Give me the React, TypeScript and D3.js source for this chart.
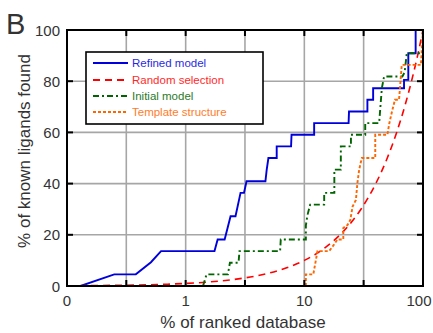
import React from "react";
import * as d3 from "d3";

// x values are % of ranked database (log axis, left edge labelled "0")
const refinedX = [0.13, 0.25, 0.38, 0.51, 0.62, 1.75, 1.86, 2.13, 2.39, 2.63, 2.9, 3.1, 3.26, 4.7, 4.82, 4.98, 5.85, 5.85, 7.73, 7.8, 12.1, 12.1, 23.6, 23.8, 34, 34, 38, 38, 69.2, 69.2, 75.2, 75.2, 86.7, 86.7, 100];
const refinedY = [0, 4.55, 4.55, 9.3, 13.64, 13.64, 18.18, 18.18, 27.27, 27.27, 36.36, 36.36, 40.9, 40.9, 45.45, 50, 50, 54.55, 54.55, 59.09, 59.09, 63.64, 63.64, 68.18, 68.18, 72.73, 72.73, 77.27, 77.27, 80.5, 80.5, 90.91, 90.91, 100, 100];

const randomX = [0.1, 0.15, 0.2, 0.3, 0.5, 0.7, 1, 1.5, 2, 3, 5, 7, 10, 15, 20, 25, 30, 40, 50, 60, 70, 80, 90, 100];
const randomY = [0.1, 0.15, 0.2, 0.3, 0.5, 0.7, 1, 1.5, 2, 3, 5, 7, 10, 15, 20, 25, 30, 40, 50, 60, 70, 80, 90, 100];

const initialX = [1.4, 1.5, 2.27, 2.36, 2.79, 2.84, 6.25, 6.33, 10.3, 10.3, 10.6, 11.2, 14.7, 14.7, 17.9, 17.9, 20.3, 20.3, 24.7, 24.7, 32.6, 32.6, 42.7, 45, 47, 67, 70, 73, 100, 100];
const initialY = [0, 4.55, 4.55, 9.09, 9.09, 13.64, 13.64, 18.18, 18.18, 23.6, 27.5, 31.8, 31.8, 36.36, 36.36, 45.45, 45.45, 54.55, 54.55, 59.09, 59.09, 63.64, 63.64, 77.27, 81.82, 81.82, 83.5, 90.91, 90.91, 100];

const templateX = [10.3, 10.3, 11.9, 12.5, 12.9, 16.2, 18, 19, 21.3, 21.3, 23.1, 24.4, 25.5, 27.2, 28, 29, 30.5, 39.6, 39.6, 50.1, 52, 55, 58, 62.8, 64, 66.2, 96, 100];
const templateY = [0, 4.55, 4.55, 10, 13.64, 13.64, 16.5, 18.18, 18.18, 22.7, 23.8, 25.8, 31, 33.6, 40.2, 45.5, 50, 50, 59.09, 59.09, 63.5, 68.5, 72.73, 72.73, 77.5, 86.36, 86.36, 100];

const seriesNames = ["Refined model", "Random selection", "Initial model", "Template structure"];
const seriesColors = ["#0000dd", "#ff0000", "#006400", "#ff6600"];
const seriesDash = ["none", "7,5", "6,3,2,3", "3,2"];

const xGridTicks = [0.1, 0.316, 1, 3.16, 10, 31.6, 100];
const xLabelValues = [0.1, 1, 10, 100];
const xLabelTexts = ["0", "1", "10", "100"];
const yTicks = [0, 20, 40, 60, 80, 100];

const W = 433;
const H = 333;
const left = 67;
const right = 423;
const top = 30;
const bottom = 286;
const font = "'Liberation Sans', Arial, Helvetica, sans-serif";

export default function App() {
  const x = d3.scaleLog().domain([0.1, 100]).range([left, right]);
  const y = d3.scaleLinear().domain([0, 100]).range([bottom, top]);

  const series = [
    { xs: refinedX, ys: refinedY },
    { xs: randomX, ys: randomY },
    { xs: initialX, ys: initialY },
    { xs: templateX, ys: templateY },
  ];

  const line = d3
    .line<[number, number]>()
    .x((d) => x(d[0]))
    .y((d) => y(d[1]));
  const smooth = d3
    .line<[number, number]>()
    .x((d) => x(d[0]))
    .y((d) => y(d[1]))
    .curve(d3.curveMonotoneX);

  const legX = 86, legY = 52, legW = 177, legH = 72;
  const rowY = [63, 80, 96, 112];

  return (
    <svg width={W} height={H} style={{ position: "absolute", left: 0, top: 0, background: "#fff" }} fontFamily={font}>
      <defs>
        <clipPath id="plotClip">
          <rect x={left} y={top} width={right - left} height={bottom - top} />
        </clipPath>
      </defs>
      <rect x={0} y={0} width={W} height={H} fill="#fff" />

      {/* grid */}
      {xGridTicks.slice(1, -1).map((t) => (
        <line key={"gx" + t} x1={x(t)} x2={x(t)} y1={top} y2={bottom} stroke="#a6a6a6" strokeWidth={1.6} />
      ))}
      {yTicks.slice(1, -1).map((t) => (
        <line key={"gy" + t} x1={left} x2={right} y1={y(t)} y2={y(t)} stroke="#a6a6a6" strokeWidth={1.6} />
      ))}

      {/* series */}
      <g clipPath="url(#plotClip)">
        {series.map((s, i) => {
          const pts = s.xs.map((v, j) => [v, s.ys[j]] as [number, number]);
          const gen = i === 1 ? smooth : line;
          return (
            <path
              key={seriesNames[i]}
              d={gen(pts) || ""}
              fill="none"
              stroke={seriesColors[i]}
              strokeWidth={i === 1 ? 1.6 : 1.9}
              strokeDasharray={seriesDash[i]}
            />
          );
        })}
      </g>

      {/* axes box */}
      <rect x={left} y={top} width={right - left} height={bottom - top} fill="none" stroke="#000" strokeWidth={2} />
      {xGridTicks.slice(1, -1).map((t) => (
        <g key={"tx" + t}>
          <line x1={x(t)} x2={x(t)} y1={bottom} y2={bottom - 6} stroke="#000" strokeWidth={2} />
          <line x1={x(t)} x2={x(t)} y1={top} y2={top + 6} stroke="#000" strokeWidth={2} />
        </g>
      ))}
      {yTicks.slice(1, -1).map((t) => (
        <g key={"ty" + t}>
          <line x1={left} x2={left + 6} y1={y(t)} y2={y(t)} stroke="#000" strokeWidth={2} />
          <line x1={right} x2={right - 6} y1={y(t)} y2={y(t)} stroke="#000" strokeWidth={2} />
        </g>
      ))}

      {/* tick labels */}
      {xLabelValues.map((v, i) => (
        <text
          key={"xl" + v}
          x={i === xLabelValues.length - 1 ? x(v) - 4 : x(v)}
          y={306}
          textAnchor="middle"
          fontSize={15}
          fill="#333"
        >
          {xLabelTexts[i]}
        </text>
      ))}
      {yTicks.map((t) => (
        <text key={"yl" + t} x={60} y={y(t) + 5.5} textAnchor="end" fontSize={15} fill="#333">
          {t}
        </text>
      ))}

      {/* axis titles */}
      <text x={(left + right) / 2 - 2} y={328} textAnchor="middle" fontSize={17} fill="#333">
        % of ranked database
      </text>
      <text
        transform={`translate(30,151) rotate(-90)`}
        textAnchor="middle"
        fontSize={17}
        fill="#333"
      >
        % of known ligands found
      </text>
      <text x={6} y={34} fontSize={29} fill="#333">
        B
      </text>

      {/* legend */}
      <rect x={legX} y={legY} width={legW} height={legH} fill="#fff" stroke="#000" strokeWidth={1.6} />
      {seriesNames.map((n, i) => (
        <g key={"lg" + n}>
          <line x1={93} x2={128} y1={rowY[i]} y2={rowY[i]} stroke={seriesColors[i]} strokeWidth={1.9} strokeDasharray={seriesDash[i]} />
          <text x={132} y={rowY[i] + 4} fontSize={11.5} fill={seriesColors[i]} opacity={0.85}>
            {n}
          </text>
        </g>
      ))}
    </svg>
  );
}
